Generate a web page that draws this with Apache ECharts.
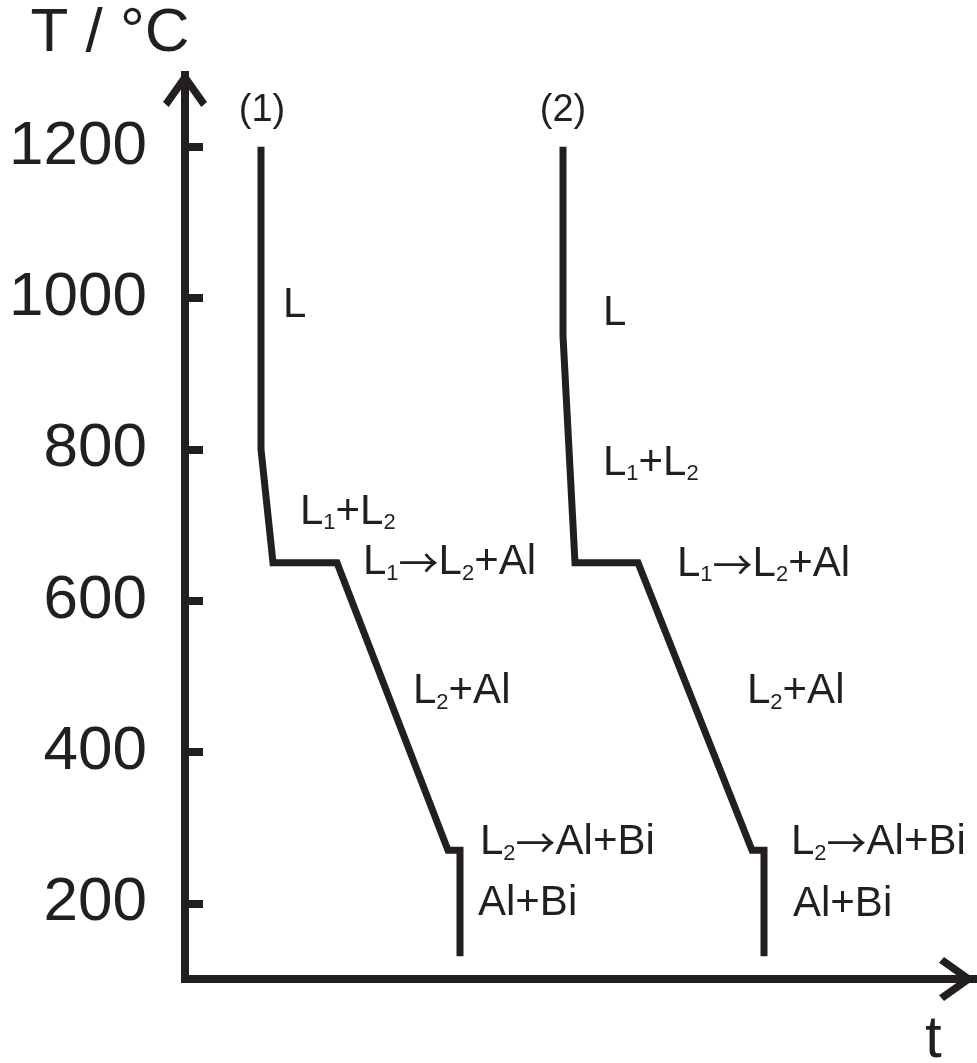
<!DOCTYPE html>
<html>
<head>
<meta charset="utf-8">
<style>
  html, body { margin: 0; padding: 0; background: #ffffff; }
  #chart { width: 977px; height: 1063px; }
</style>
<script src="https://cdn.jsdelivr.net/npm/echarts@6/dist/echarts.min.js"></script>
</head>
<body>
<div id="chart"></div>
<script>
// ---------- data ----------
// Temperature axis tick labels (°C)
const tempTicks = [200, 400, 600, 800, 1000, 1200];

// Cooling curve (1): time (arbitrary units) and temperature (°C)
const curve1Time = [7.6, 7.6, 8.8, 15.2, 26.3, 27.5, 27.5];
const curve1Temp = [1200, 800, 650, 650, 270, 270, 130];

// Cooling curve (2)
const curve2Time = [37.8, 37.8, 39.0, 45.3, 56.7, 57.9, 57.9];
const curve2Temp = [1200, 950, 650, 650, 270, 270, 130];

// Curve identifiers
const curveNames = ['(1)', '(2)'];
const curveNameTime = [7.7, 37.8];
const curveNameTemp = [1248, 1248];

// Phase annotations (text, anchor time, anchor temperature)
const phaseTexts = ['L', 'L₁+L₂', 'L₁→L₂+Al', 'L₂+Al', 'L₂→Al+Bi', 'Al+Bi',
                    'L', 'L₁+L₂', 'L₁→L₂+Al', 'L₂+Al', 'L₂→Al+Bi', 'Al+Bi'];
const phaseTime  = [9.8, 11.5, 17.8, 22.8, 29.5, 29.3,
                    41.8, 41.8, 49.2, 56.2, 60.6, 60.8];
const phaseTemp  = [990, 717, 650, 480, 280, 200,
                    979, 782, 648, 480, 280, 198];

// ---------- styling ----------
const INK = '#231f20';
const FONT = '"Liberation Sans", Arial, Helvetica, sans-serif';
const ARROW_FONT = '"Noto Sans CJK SC", "DejaVu Sans", sans-serif';
const CHEVRON = 'path://M22,0L44,31L38.3,36L22,13L5.7,36L0,31Z';

function zip(a, b) { return a.map((v, i) => [v, b[i]]); }

// turn subscript characters and arrows into rich-text tokens
function toRich(txt) {
  const subs = { '₁': '1', '₂': '2' };
  let out = '', buf = '';
  const flush = () => { if (buf) { out += '{m|' + buf + '}'; buf = ''; } };
  for (const ch of txt) {
    if (subs[ch]) { flush(); out += '{s|' + subs[ch] + '}'; }
    else if (ch === '→') { flush(); out += '{a|→}'; }
    else buf += ch;
  }
  flush();
  return out;
}

const chart = echarts.init(document.getElementById('chart'), null, { renderer: 'canvas' });

const lineSeries = (name, t, T) => ({
  name: name,
  type: 'line',
  data: zip(t, T),
  symbol: 'none',
  silent: true,
  clip: false,
  lineStyle: { color: INK, width: 7, cap: 'butt', join: 'miter', miterLimit: 10, opacity: 1 },
  z: 3
});

const option = {
  animation: false,
  backgroundColor: '#ffffff',
  title: {
    text: 't',
    left: 925,
    top: 1010,
    padding: 0,
    textStyle: { color: INK, fontSize: 60, fontWeight: 'normal', fontFamily: FONT }
  },
  grid: { left: 185, right: 2, top: 71, bottom: 84, containLabel: false, outerBoundsMode: 'none' },
  xAxis: {
    type: 'value',
    min: 0,
    max: 79,
    axisLine: {
      onZero: false,
      symbol: ['none', CHEVRON],
      symbolSize: [44, 36],
      symbolOffset: [0, -18],
      lineStyle: { color: INK, width: 8, cap: 'square' }
    },
    axisTick: { show: false },
    axisLabel: { show: false },
    splitLine: { show: false }
  },
  yAxis: {
    type: 'value',
    min: 100,
    max: 1300,
    name: 'T / °C',
    nameLocation: 'end',
    nameGap: 37,
    nameTextStyle: {
      color: INK, fontSize: 62, fontFamily: FONT,
      align: 'center', verticalAlign: 'middle', padding: [0, 150, 0, 0]
    },
    axisLine: {
      onZero: false,
      symbol: ['none', CHEVRON],
      symbolSize: [44, 36],
      symbolOffset: [0, -18],
      lineStyle: { color: INK, width: 8, cap: 'butt' }
    },
    axisTick: {
      show: true,
      inside: true,
      length: 18,
      customValues: tempTicks,
      lineStyle: { color: INK, width: 8 }
    },
    axisLabel: {
      show: true,
      customValues: tempTicks,
      formatter: v => String(v),
      margin: 38,
      color: INK,
      fontSize: 62,
      fontFamily: FONT
    },
    splitLine: { show: false }
  },
  series: [
    lineSeries('curve (1)', curve1Time, curve1Temp),
    lineSeries('curve (2)', curve2Time, curve2Temp),
    {
      name: 'curve ids',
      type: 'scatter',
      symbolSize: 0,
      silent: true,
      itemStyle: { opacity: 1 },
      data: curveNames.map((n, i) => ({ name: n, value: [curveNameTime[i], curveNameTemp[i]] })),
      label: {
        show: true,
        position: 'inside',
        formatter: p => p.name,
        color: INK,
        opacity: 1,
        fontSize: 38,
        fontFamily: FONT
      },
      z: 4
    },
    {
      name: 'phases',
      type: 'scatter',
      symbolSize: 0,
      silent: true,
      itemStyle: { opacity: 1 },
      data: phaseTexts.map((n, i) => ({ name: n, value: [phaseTime[i], phaseTemp[i]] })),
      label: {
        show: true,
        position: 'right',
        distance: 0,
        formatter: p => toRich(p.name),
        color: INK,
        opacity: 1,
        fontSize: 42,
        fontFamily: FONT,
        rich: {
          m: { color: INK, fontSize: 42, fontFamily: FONT, lineHeight: 50, verticalAlign: 'middle' },
          s: { color: INK, fontSize: 22, fontFamily: FONT, lineHeight: 26, padding: [22, 0, 0, 0], verticalAlign: 'middle' },
          a: { color: INK, fontSize: 40, fontFamily: ARROW_FONT, lineHeight: 50, verticalAlign: 'middle' }
        }
      },
      z: 4
    }
  ]
};

chart.setOption(option);
</script>
</body>
</html>
